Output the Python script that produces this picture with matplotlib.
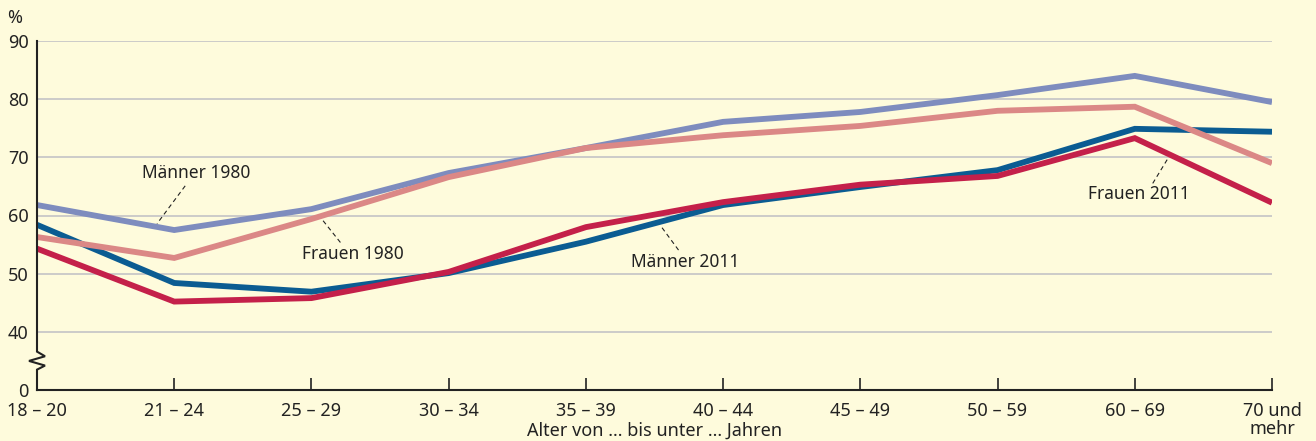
import matplotlib.pyplot as plt
from matplotlib.transforms import blended_transform_factory

plt.rcParams["font.family"] = ["Noto Sans", "DejaVu Sans"]

# age groups (x axis)
age_groups = ["18 – 20", "21 – 24", "25 – 29", "30 – 34", "35 – 39",
              "40 – 44", "45 – 49", "50 – 59", "60 – 69", "70 und\nmehr"]

# shares in %
maenner_1980 = [61.8, 57.5, 61.1, 67.3, 71.6, 76.1, 77.8, 80.7, 84.0, 79.5]
frauen_1980 = [56.3, 52.7, 59.4, 66.6, 71.6, 73.8, 75.4, 78.0, 78.7, 69.0]
maenner_2011 = [58.4, 48.4, 46.9, 50.1, 55.5, 61.8, 64.9, 67.8, 74.9, 74.4]
frauen_2011 = [54.3, 45.2, 45.8, 50.3, 58.0, 62.3, 65.3, 66.8, 73.3, 62.2]

y_ticks = [30, 40, 50, 60, 70, 80, 90]          # 30 stands for the broken 0
y_labels = ["0", "40", "50", "60", "70", "80", "90"]

bg = "#fefbdc"
fig = plt.figure(figsize=(13.16, 4.41), dpi=100, facecolor=bg)
ax = fig.add_axes([37 / 1316, 1 - 390 / 441, (1272 - 37) / 1316, (390 - 41) / 441])
ax.set_facecolor(bg)

x = list(range(len(age_groups)))
lw = 4.2
series = [
    (maenner_1980, "#7e8cbe"),
    (maenner_2011, "#0b5c92"),
    (frauen_1980, "#db8886"),
    (frauen_2011, "#c4204a"),
]
for vals, col in series:
    ax.plot(x, vals, color=col, lw=lw, solid_capstyle="butt",
            solid_joinstyle="miter", zorder=3)

ax.set_xlim(0, 9)
ax.set_ylim(30, 90)
for v in y_ticks[1:]:
    ax.axhline(v, color="#c8c8c8", lw=1.3, zorder=1)

ax.set_yticks(y_ticks)
ax.set_yticklabels(y_labels, fontsize=13, color="#222222")
ax.tick_params(axis="y", length=0, pad=6)
ax.set_xticks(x)
ax.set_xticklabels(age_groups, fontsize=13, color="#222222", linespacing=0.95)
ax.tick_params(axis="x", direction="in", length=9, width=1.2, color="#222222", pad=9)
ax.get_xticklabels()[-1].set_verticalalignment("top")

for s in ["top", "right", "left"]:
    ax.spines[s].set_visible(False)
ax.spines["bottom"].set_linewidth(1.5)
ax.spines["bottom"].set_color("#222222")

# left axis with break
tr = blended_transform_factory(ax.transAxes, ax.transData)
d = 8 / 1235
ax.plot([0, 0, d, -d, d, 0, 0],
        [90, 36.6, 35.8, 35.0, 34.2, 33.5, 30],
        transform=tr, color="#222222", lw=1.5, clip_on=False, zorder=4,
        solid_joinstyle="miter")

# labels with dashed leaders
labels = [
    ("Männer 1980", 1.16, 67.3, (1.08, 65.1), (0.875, 58.6)),
    ("Frauen 1980", 2.30, 53.4, (2.085, 59.1), (2.22, 55.1)),
    ("Männer 2011", 4.72, 52.0, (4.555, 57.9), (4.68, 53.9)),
    ("Frauen 2011", 8.03, 63.7, (8.236, 69.6), (8.12, 65.1)),
]
for txt, tx, ty, p0, p1 in labels:
    ax.text(tx, ty, txt, fontsize=12.5, color="#222222", ha="center", va="center", zorder=5)
    ax.plot([p0[0], p1[0]], [p0[1], p1[1]], color="#222222", lw=0.8,
            dashes=(4, 3), zorder=5)

fig.text(15 / 1316, 1 - 18 / 441, "%", fontsize=13, color="#222222", ha="center", va="center")
fig.text(655 / 1316, 1 - 431 / 441, "Alter von ... bis unter ... Jahren", fontsize=13,
         color="#222222", ha="center", va="center")

fig.savefig("out.png", dpi=100, facecolor=bg)
